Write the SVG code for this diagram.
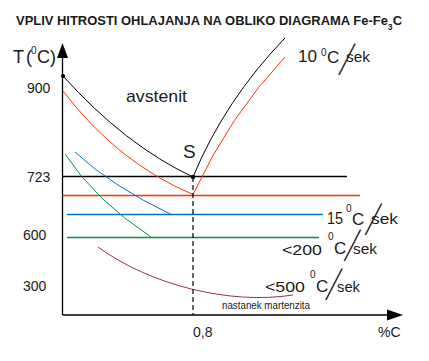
<svg xmlns="http://www.w3.org/2000/svg" width="429" height="361" viewBox="0 0 429 361">
<style>
  text { font-family: "Liberation Sans", Arial, sans-serif; fill: #1a1a1a; }
  .title { font-weight: bold; font-size: 13.5px; }
  .lab { font-size: 14px; }
  .sl { font-family: Inter, Roboto, "Noto Sans", sans-serif; font-weight: 200; font-size: 36px; }
  .ax { stroke: #000; stroke-width: 1.3; fill: none; }
  .blk { stroke: #000; stroke-width: 1; fill: none; }
  .red { stroke: #ff3300; stroke-width: 1; fill: none; }
  .blu { stroke: #0070c0; stroke-width: 1; fill: none; }
  .grn { stroke: #00924a; stroke-width: 1; fill: none; }
  .pur { stroke: #9c2c5c; stroke-width: 1; fill: none; }
  .hl { stroke-width: 1.3; }
</style>
<rect width="429" height="361" fill="#fff"/>

<g id="title">
  <text class="title" x="16" y="25" textLength="386" lengthAdjust="spacingAndGlyphs">VPLIV HITROSTI OHLAJANJA NA OBLIKO DIAGRAMA Fe-Fe<tspan font-size="9" dy="5">3</tspan><tspan dy="-5">C</tspan></text>
</g>

<g id="axes">
  <line class="ax" x1="62.5" y1="56" x2="62.5" y2="315"/>
  <polygon points="62.5,43 57,58 68,58" fill="#000"/>
  <line class="ax" x1="62.5" y1="315" x2="390" y2="315"/>
  <polygon points="403,315 387,309.5 387,320.5" fill="#000"/>
  <text x="13" y="63" font-size="18">T<tspan x="26">(</tspan><tspan x="31" y="54" font-size="10">0</tspan><tspan x="37" y="63" font-size="18">C)</tspan></text>
  <text class="lab" x="27" y="93">900</text>
  <text class="lab" x="27" y="182">723</text>
  <text class="lab" x="23" y="240">600</text>
  <text class="lab" x="23" y="291">300</text>
  <text class="lab" x="193" y="337">0,8</text>
  <text class="lab" x="378" y="337">%C</text>
</g>

<g id="connectors">
  <path class="blk" d="M63,76 Q125,145 193,177"/>
  <path class="blk" d="M193,177 Q225,100 285,38"/>
  <line class="blk hl" x1="62.5" y1="176.5" x2="347" y2="176.5"/>
  <circle cx="63" cy="76" r="2" fill="#000"/>
  <circle cx="193" cy="177" r="2.2" fill="#000"/>
  <path class="red" d="M63,91 Q118,163 193,194.5"/>
  <path class="red" d="M193,194.5 Q230,115 285,57"/>
  <line class="red hl" x1="62.5" y1="195.5" x2="360" y2="195.5"/>
  <path class="blu" d="M75,152 Q110,185 172,215"/>
  <line class="blu hl" x1="67" y1="214.5" x2="323" y2="214.5"/>
  <path class="grn" d="M65,154 Q95,200 151,237"/>
  <line class="grn hl" x1="67" y1="237.5" x2="319" y2="237.5"/>
  <path class="pur" d="M98,247 C150,285 230,305 293,295"/>
  <line x1="193" y1="177" x2="193" y2="315" stroke="#000" stroke-width="1.2" stroke-dasharray="5,3"/>
</g>

<g id="avstenit">
  <text x="126" y="102" font-size="17" textLength="61" lengthAdjust="spacingAndGlyphs">avstenit</text>
</g>
<g id="S">
  <text x="183" y="158" font-size="19">S</text>
</g>

<g id="rate10">
  <text x="298" y="62" font-size="16" textLength="19" lengthAdjust="spacingAndGlyphs">10</text>
  <text x="321" y="56" font-size="10">0</text>
  <text x="327" y="63" font-size="17">C</text>
  <text class="sl" transform="translate(344,71) skewX(-14)" text-anchor="middle">/</text>
  <text x="346" y="62" font-size="15" textLength="24" lengthAdjust="spacingAndGlyphs">sek</text>
</g>
<g id="rate15">
  <text x="327" y="224" font-size="16" textLength="16" lengthAdjust="spacingAndGlyphs">15</text>
  <text x="346" y="212" font-size="10">0</text>
  <text x="352" y="225" font-size="17">C</text>
  <text class="sl" transform="translate(370.5,231) skewX(-14)" text-anchor="middle">/</text>
  <text x="371" y="224" font-size="15" textLength="27" lengthAdjust="spacingAndGlyphs">sek</text>
</g>
<g id="rate200">
  <text x="282" y="255" font-size="15" textLength="40" lengthAdjust="spacingAndGlyphs">&lt;200</text>
  <text x="328" y="240" font-size="10">0</text>
  <text x="334" y="254" font-size="17">C</text>
  <text class="sl" transform="translate(349.5,257) skewX(-14)" text-anchor="middle">/</text>
  <text x="353" y="254" font-size="15" textLength="24" lengthAdjust="spacingAndGlyphs">sek</text>
</g>
<g id="rate500">
  <text x="265" y="292" font-size="15" textLength="40" lengthAdjust="spacingAndGlyphs">&lt;500</text>
  <text x="310" y="278" font-size="10">0</text>
  <text x="316" y="292" font-size="17">C</text>
  <text class="sl" transform="translate(331,296) skewX(-14)" text-anchor="middle">/</text>
  <text x="337" y="292" font-size="15" textLength="23" lengthAdjust="spacingAndGlyphs">sek</text>
</g>
<g id="martenzit">
  <text x="222" y="309" font-size="10" textLength="88" lengthAdjust="spacingAndGlyphs">nastanek martenzita</text>
</g>
</svg>
